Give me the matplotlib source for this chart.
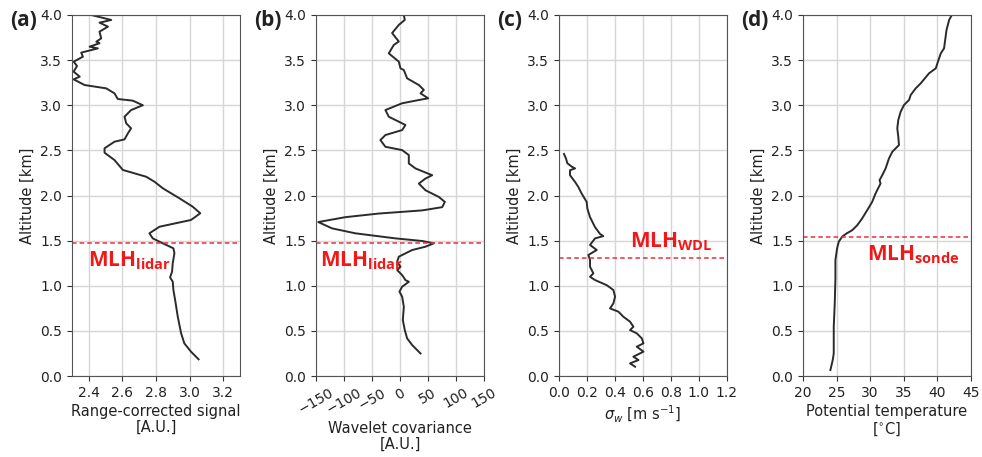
import matplotlib.pyplot as plt

plt.rcParams['font.family'] = ['DejaVu Sans']
plt.rcParams['mathtext.fontset'] = 'custom'
plt.rcParams['mathtext.rm'] = 'DejaVu Sans'
plt.rcParams['mathtext.it'] = 'DejaVu Sans:italic'
plt.rcParams['mathtext.bf'] = 'Open Sans:bold'

# (a) range-corrected lidar signal
alt_a = [4.0, 3.945, 3.915, 3.871, 3.815, 3.741, 3.704, 3.687, 3.649, 3.630, 3.583, 3.538,
         3.483, 3.435, 3.372, 3.317, 3.287, 3.224, 3.187, 3.132, 3.069, 3.051, 3.0, 2.947,
         2.873, 2.8, 2.744, 2.689, 2.622, 2.596, 2.523, 2.474, 2.393, 2.283, 2.208, 2.153,
         2.08, 1.969, 1.876, 1.803, 1.729, 1.654, 1.581, 1.525, 1.47, 1.415, 1.36, 1.249,
         1.156, 1.093, 1.045, 0.953, 0.823, 0.657, 0.473, 0.362, 0.269, 0.185]
sig_a = [2.415, 2.534, 2.464, 2.514, 2.464, 2.474, 2.445, 2.464, 2.405, 2.454, 2.355, 2.365,
         2.31, 2.33, 2.31, 2.346, 2.31, 2.375, 2.504, 2.553, 2.573, 2.662, 2.722, 2.652,
         2.613, 2.623, 2.652, 2.633, 2.613, 2.553, 2.494, 2.494, 2.553, 2.603, 2.742, 2.791,
         2.841, 2.94, 3.019, 3.064, 3.009, 2.821, 2.761, 2.781, 2.841, 2.904, 2.91, 2.9,
         2.896, 2.884, 2.9, 2.904, 2.916, 2.93, 2.95, 2.969, 3.009, 3.054]

# (b) wavelet covariance
alt_b = [4.0, 3.945, 3.89, 3.80, 3.706, 3.668, 3.575, 3.483, 3.409, 3.39, 3.298, 3.224,
         3.17, 3.132, 3.077, 3.058, 3.022, 2.947, 2.873, 2.818, 2.781, 2.725, 2.67, 2.614,
         2.54, 2.503, 2.448, 2.355, 2.3, 2.262, 2.225, 2.188, 2.132, 2.058, 1.984, 1.929,
         1.871, 1.835, 1.8, 1.76, 1.706, 1.636, 1.581, 1.525, 1.496, 1.47, 1.433, 1.396,
         1.359, 1.322, 1.267, 1.211, 1.174, 1.118, 1.063, 1.044, 0.99, 0.935, 0.879, 0.768,
         0.62, 0.509, 0.417, 0.343, 0.25]
cov_b = [6.9, 8.6, -2.1, -14, -2.1, -11, -20, -2.1, 0.9, 6.9, 12.8, 33.7,
         42.6, 36.7, 50.4, 33.7, 3.9, -26, -20, -2.1, 9.8, 3.9, -26, -35,
         -26, 3.9, 15.8, 15.8, 27.7, 42.6, 57.6, 45.6, 33.7, 45.6, 69.5, 80.2,
         75.5, 39.7, -38, -97.5, -146, -121.4, -79.6, -8, 39.7, 60.5, 45.6, 21.8,
         9.8, -2.1, -5, 0.9, -5, 3.9, 9.8, 15.8, 3.9, -0.9, 3.9, 6.9,
         5.1, 8.6, 12.8, 21.8, 36.7]

# (c) sigma_w from Doppler lidar
alt_c = [2.46, 2.412, 2.357, 2.32, 2.30, 2.28, 2.225, 2.15, 2.096, 2.022, 1.929, 1.855,
         1.76, 1.649, 1.575, 1.55, 1.525, 1.452, 1.396, 1.341, 1.285, 1.211, 1.137, 1.1,
         1.063, 1.007, 0.953, 0.879, 0.805, 0.749, 0.713, 0.657, 0.602, 0.546, 0.509, 0.473,
         0.417, 0.362, 0.325, 0.27, 0.214, 0.177, 0.14, 0.103]
sw_c = [0.036, 0.05, 0.06, 0.091, 0.115, 0.079, 0.079, 0.115, 0.138, 0.162, 0.198, 0.203,
        0.222, 0.258, 0.293, 0.317, 0.258, 0.222, 0.27, 0.21, 0.222, 0.222, 0.246, 0.222,
        0.258, 0.341, 0.389, 0.401, 0.389, 0.365, 0.425, 0.46, 0.508, 0.532, 0.508, 0.556,
        0.592, 0.604, 0.556, 0.604, 0.532, 0.568, 0.508, 0.544]

# (d) potential temperature from radiosonde
alt_d = [4.0, 3.945, 3.834, 3.723, 3.63, 3.575, 3.5, 3.409, 3.354, 3.31, 3.243, 3.187,
         3.114, 3.058, 3.003, 2.928, 2.836, 2.744, 2.652, 2.559, 2.485, 2.41, 2.3, 2.225,
         2.17, 2.133, 2.096, 2.022, 1.929, 1.837, 1.745, 1.67, 1.615, 1.58, 1.544, 1.488,
         1.414, 1.285, 1.082, 0.805, 0.546, 0.251, 0.177, 0.066]
theta_d = [42.16, 41.76, 41.37, 41.17, 41.0, 40.52, 40.17, 39.77, 38.77, 38.28, 37.53, 36.78,
           36.04, 35.79, 35.04, 34.54, 34.19, 34.04, 34.19, 34.29, 33.3, 32.8, 32.3, 31.8,
           31.4, 31.55, 31.3, 30.8, 30.3, 29.56, 28.8, 28.07, 27.32, 26.5, 25.83, 25.33,
           25.08, 24.83, 24.83, 24.73, 24.58, 24.58, 24.43, 24.08]

mlh = [1.47, 1.47, 1.31, 1.54]
mlh_names = ['lidar', 'lidar', 'WDL', 'sonde']
panel_tags = ['(a)', '(b)', '(c)', '(d)']
xlabels = ['Range-corrected signal\n[A.U.]', 'Wavelet covariance\n[A.U.]',
           r'$\sigma_w$ [m s$^{-1}$]', 'Potential temperature\n[$^{\circ}$C]']
xlims = [(2.3, 3.3), (-150, 150), (0, 1.2), (20, 45)]
xticks = [[2.4, 2.6, 2.8, 3.0, 3.2], [-150, -100, -50, 0, 50, 100, 150],
          [0.0, 0.2, 0.4, 0.6, 0.8, 1.0, 1.2], [20, 25, 30, 35, 40, 45]]
# where the MLH label goes (x in data units, baseline altitude)
txt_pos = [(2.395, 1.21), (-142.8, 1.21), (0.507, 1.43), (29.5, 1.285)]

profiles = [(sig_a, alt_a), (cov_b, alt_b), (sw_c, alt_c), (theta_d, alt_d)]
lefts = [0.0733, 0.3218, 0.5692, 0.8177]

fig = plt.figure(figsize=(9.82, 4.57), dpi=100)
for i in range(4):
    ax = fig.add_axes([lefts[i], 0.1772, 0.171, 0.79])
    x, y = profiles[i]
    ax.plot(x, y, color='#2b2b2b', lw=1.4)
    ax.axhline(mlh[i], color='#e8303a', ls='--', lw=1.1, dashes=(3, 2))
    ax.set_xlim(*xlims[i])
    ax.set_ylim(0, 4)
    ax.set_xticks(xticks[i])
    ax.set_yticks([0, 0.5, 1.0, 1.5, 2.0, 2.5, 3.0, 3.5, 4.0])
    ax.grid(True, color='#d6d6d6', lw=1.0)
    ax.set_axisbelow(True)
    for s in ax.spines.values():
        s.set_color('#555555')
    ax.tick_params(labelsize=10, colors='#333333', labelcolor='#222222')
    ax.set_ylabel('Altitude [km]', fontsize=10.5, color='#222222', labelpad=4)
    ax.set_xlabel(xlabels[i], fontsize=10.5, color='#222222', linespacing=1.1, labelpad=3)
    if i == 1:
        plt.setp(ax.get_xticklabels(), rotation=30)
    tx, ty = txt_pos[i]
    ax.text(tx, ty, r'$\mathbf{MLH}_{\mathbf{' + mlh_names[i] + '}}$', color='#f01818',
            fontsize=15, va='baseline', ha='left')
    fig.text(lefts[i] - 0.063, 0.955, panel_tags[i], fontsize=15, fontweight='bold',
             family='Open Sans', ha='left', va='center', color='#222222')

plt.savefig('out.png', dpi=100)
